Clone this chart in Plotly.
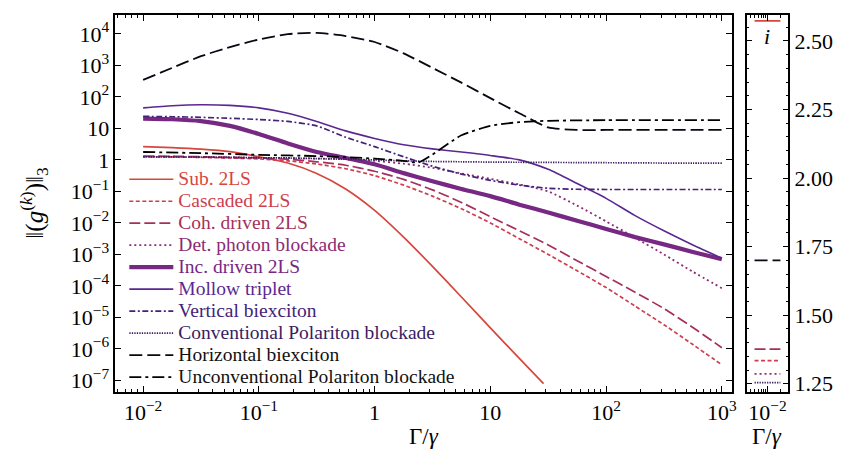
import plotly.graph_objects as go

# ---------------- data ----------------
gamma = [0.01, 0.0178, 0.0316, 0.0562, 0.1, 0.178, 0.316, 0.562, 1, 1.78, 3.16,
         5.62, 10, 17.8, 31.6, 56.2, 100, 178, 316, 562, 1000]

gamma_sub = [0.01, 0.0178, 0.0316, 0.0562, 0.1, 0.178, 0.316, 0.562, 1, 1.78,
             3.16, 5.62, 10, 17.8, 28.8]
sub_2ls = [2.63, 2.45, 2.19, 1.82, 1.26, 0.794, 0.372, 0.120, 0.0251, 0.00355,
           0.000417, 4.47e-5, 4.68e-6, 5.01e-7, 7.94e-8]

cascaded_2ls = [1.26, 1.24, 1.20, 1.15, 1.07, 0.933, 0.741, 0.525, 0.316, 0.158,
                0.0708, 0.0282, 0.01, 0.00316, 0.001, 0.000302, 8.91e-5, 2.29e-5,
                5.89e-6, 1.38e-6, 3.16e-7]

coh_driven_2ls = [1.32, 1.30, 1.26, 1.20, 1.15, 1.05, 0.871, 0.676, 0.437, 0.240,
                  0.112, 0.0447, 0.0158, 0.00562, 0.002, 0.000631, 0.0002, 6.31e-5,
                  1.91e-5, 4.79e-6, 1.10e-6]

det_photon_blockade = [1.26, 1.26, 1.23, 1.20, 1.17, 1.15, 1.10, 1.05, 0.933, 0.759,
                       0.562, 0.372, 0.251, 0.166, 0.1, 0.0355, 0.0112, 0.00339,
                       0.001, 0.000282, 8.51e-5]

inc_driven_2ls = [20.4, 19.5, 17.0, 12.0, 6.61, 3.31, 1.78, 1.15, 0.724, 0.380,
                  0.209, 0.120, 0.0708, 0.0380, 0.0214, 0.0117, 0.00646, 0.00355,
                  0.00209, 0.00120, 0.000708]

mollow_triplet = [44.7, 52.5, 56.2, 53.7, 44.7, 30.2, 16.6, 8.32, 4.79, 3.02, 2.24,
                  1.78, 1.38, 1.0, 0.501, 0.178, 0.0603, 0.0170, 0.00562, 0.00200,
                  0.000759]

vertical_biexciton = [24.0, 23.4, 22.4, 20.9, 19.1, 16.6, 12.0, 5.25, 2.63, 1.26,
                      0.631, 0.355, 0.224, 0.158, 0.126, 0.117, 0.115, 0.115, 0.115,
                      0.115, 0.115]

conv_polariton = [1.26, 1.24, 1.23, 1.20, 1.17, 1.15, 1.10, 1.05, 1.0, 0.933, 0.891,
                  0.871, 0.851, 0.841, 0.832, 0.822, 0.813, 0.804, 0.794, 0.794, 0.794]

horizontal_biexciton = [347, 832, 1950, 3800, 6610, 9770, 10700, 8510, 5500, 2400,
                        832, 282, 91.2, 30.2, 10.7, 8.91, 8.91, 8.91, 8.91, 8.91, 8.91]

gamma_unconv = [0.01, 0.0316, 0.1, 0.316, 1, 1.78, 2.4, 3.16, 5.62, 10, 17.8, 31.6,
                100, 1000]
unconv_polariton = [1.78, 1.64, 1.45, 1.32, 1.10, 0.93, 0.83, 1.48, 6.03, 12.0, 15.8,
                    17.4, 18.2, 18.2]

# right panel: exponent i at Gamma/gamma = 1e-2
i_gamma = 0.01
i_values = {"sub": 2.573, "horiz": 1.70, "coh": 1.376, "casc": 1.334,
            "det": 1.286, "conv": 1.254}

x_ticks = [0.01, 0.1, 1, 10, 100, 1000]
x_ticktext = ["10<sup>−2</sup>", "10<sup>−1</sup>", "1", "10", "10<sup>2</sup>", "10<sup>3</sup>"]
y_ticks = [1e-7, 1e-6, 1e-5, 1e-4, 1e-3, 1e-2, 1e-1, 1, 10, 100, 1e3, 1e4]
y_ticktext = ["10<sup>−7</sup>", "10<sup>−6</sup>", "10<sup>−5</sup>", "10<sup>−4</sup>",
              "10<sup>−3</sup>", "10<sup>−2</sup>", "10<sup>−1</sup>", "1", "10",
              "10<sup>2</sup>", "10<sup>3</sup>", "10<sup>4</sup>"]
r_ticks = [1.25, 1.5, 1.75, 2.0, 2.25, 2.5]
r_ticktext = ["1.25", "1.50", "1.75", "2.00", "2.25", "2.50"]

# ---------------- styles ----------------
FONT = "Liberation Serif"
W, H = 843, 450
L, R, T, B = 108, 728, 7, 388
RL, RR = 743, 785

styles = {
    "sub":   dict(color="#d6473d", dash="solid", width=1.7),
    "casc":  dict(color="#cf3d4e", dash="4px,2.5px", width=1.7),
    "coh":   dict(color="#a5305b", dash="11px,4px", width=1.7),
    "det":   dict(color="#8c2b74", dash="2px,3px", width=1.8),
    "inc":   dict(color="#762883", dash="solid", width=4.2),
    "mollow": dict(color="#5b2890", dash="solid", width=1.6),
    "vert":  dict(color="#43227a", dash="6px,2.5px,2px,2.5px", width=1.7),
    "conv":  dict(color="#3a1c62", dash="1.3px,1.2px", width=1.7),
    "horiz": dict(color="#0b0712", dash="13px,5px", width=1.8),
    "unconv": dict(color="#000000", dash="12px,4px,3px,4px", width=1.8),
}
text_colors = {"horiz": "#111111", "unconv": "#111111"}

fig = go.Figure()

# reference line at 1
fig.add_shape(type="line", xref="x domain", yref="y", x0=0, x1=1, y0=0, y1=0,
              line=dict(color="#d4d4d4", width=1.2, dash="8px,2px"), layer="below")

series = [
    ("sub", gamma_sub, sub_2ls, "Sub. 2LS"),
    ("casc", gamma, cascaded_2ls, "Cascaded 2LS"),
    ("coh", gamma, coh_driven_2ls, "Coh. driven 2LS"),
    ("det", gamma, det_photon_blockade, "Det. photon blockade"),
    ("inc", gamma, inc_driven_2ls, "Inc. driven 2LS"),
    ("mollow", gamma, mollow_triplet, "Mollow triplet"),
    ("vert", gamma, vertical_biexciton, "Vertical biexciton"),
    ("conv", gamma, conv_polariton, "Conventional Polariton blockade"),
    ("horiz", gamma, horizontal_biexciton, "Horizontal biexciton"),
    ("unconv", gamma_unconv, unconv_polariton, "Unconventional Polariton blockade"),
]

for key, xs, ys, name in series:
    st = styles[key]
    tc = text_colors.get(key, st["color"])
    fig.add_trace(go.Scatter(
        x=xs, y=ys, mode="lines", xaxis="x", yaxis="y",
        name=f"<span style='font-size:19.5px;color:{tc}'>{name}</span>",
        line=dict(color=st["color"], dash=st["dash"], width=st["width"],
                  shape="spline", smoothing=0.6),
    ))

# right panel segments (centred on Gamma/gamma = 1e-2)
span = 2.04
for key, val in i_values.items():
    st = styles[key]
    fig.add_trace(go.Scatter(
        x=[i_gamma / span, i_gamma * span], y=[val, val], mode="lines",
        xaxis="x2", yaxis="y2", showlegend=False,
        line=dict(color=st["color"], dash=st["dash"], width=min(st["width"], 2.0)),
    ))

minor_x = [m * 10.0 ** e for e in range(-3, 4) for m in range(2, 10)]
minor_x = [v for v in minor_x if 0.0057 < v < 1200]
minor_x2 = [m * 10.0 ** e for e in range(-3, -1) for m in range(2, 10)]
minor_x2 = [v for v in minor_x2 if 0.0032 < v < 0.031]

axis_common = dict(showline=True, linecolor="black", linewidth=1.5, mirror="allticks",
                   ticks="inside", ticklen=6, tickwidth=1.2, tickcolor="black",
                   showgrid=False, zeroline=False,
                   tickfont=dict(family=FONT, size=22, color="black"))

fig.update_layout(
    width=W, height=H, margin=dict(l=0, r=0, t=0, b=0),
    paper_bgcolor="white", plot_bgcolor="white",
    font=dict(family=FONT, size=20, color="black"),
    xaxis=dict(type="log", range=[-2.24, 3.085], domain=[L / W, R / W], anchor="y",
               tickmode="array", tickvals=x_ticks, ticktext=x_ticktext,
               minor=dict(tickmode="array", tickvals=minor_x, ticks="inside",
                          ticklen=3, tickwidth=1, tickcolor="black", showgrid=False),
               **axis_common),
    yaxis=dict(type="log", range=[-7.355, 4.6], domain=[(H - B) / H, (H - T) / H],
               anchor="x", tickmode="array", tickvals=y_ticks, ticktext=y_ticktext,
               **axis_common),
    xaxis2=dict(type="log", range=[-2.5, -1.5], domain=[RL / W, RR / W], anchor="y2",
                tickmode="array", tickvals=[0.01], ticktext=["10<sup>−2</sup>"],
                minor=dict(tickmode="array", tickvals=minor_x2, ticks="inside",
                           ticklen=3, tickwidth=1, tickcolor="black", showgrid=False),
                **axis_common),
    yaxis2=dict(range=[1.221, 2.595], domain=[(H - B) / H, (H - T) / H], anchor="x2",
                side="right", tickmode="array", tickvals=r_ticks, ticktext=r_ticktext,
                minor=dict(dtick=0.05, tick0=0, ticks="inside", ticklen=3, tickwidth=1,
                           tickcolor="black", showgrid=False),
                **axis_common),
    legend=dict(x=117 / W, y=1 - 157 / H, xanchor="left", yanchor="top",
                bgcolor="rgba(0,0,0,0)", font=dict(family=FONT, size=14.6),
                itemwidth=44, tracegroupgap=0),
    showlegend=True,
)

fig.add_annotation(text="Γ/<i>γ</i>", xref="paper", yref="paper", x=418 / W, y=1 - 433 / H,
                   xanchor="center", yanchor="middle", showarrow=False,
                   font=dict(family=FONT, size=23))
fig.add_annotation(text="Γ/<i>γ</i>", xref="paper", yref="paper", x=764 / W, y=1 - 433 / H,
                   xanchor="center", yanchor="middle", showarrow=False,
                   font=dict(family=FONT, size=23))
fig.add_annotation(text="‖(<i>g</i><sup>(<i>k</i>)</sup>)‖<sub>3</sub>", xref="paper",
                   yref="paper", x=26 / W, y=1 - 197 / H, textangle=-90,
                   xanchor="center", yanchor="middle", showarrow=False,
                   font=dict(family=FONT, size=25))
fig.add_annotation(text="<i>i</i>", xref="x2", yref="y2", x=-2, y=2.515,
                   xanchor="center", yanchor="middle", showarrow=False,
                   font=dict(family=FONT, size=22))

fig.write_html("out.html")
